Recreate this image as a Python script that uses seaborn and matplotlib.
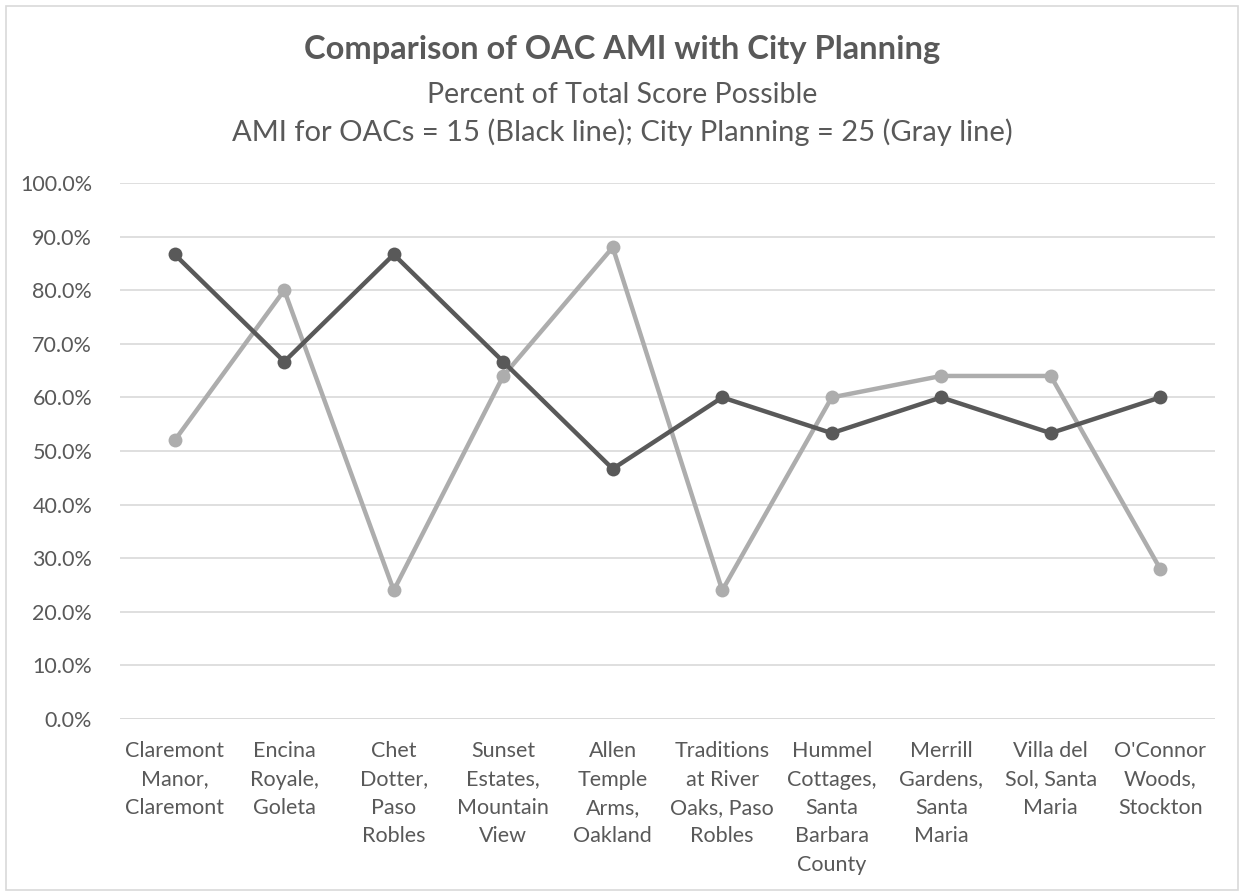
import matplotlib
matplotlib.use("Agg")
import matplotlib.pyplot as plt
import pandas as pd
import seaborn as sns
from matplotlib.patches import Rectangle
from matplotlib.ticker import PercentFormatter

communities = [
    "Claremont\nManor,\nClaremont",
    "Encina\nRoyale,\nGoleta",
    "Chet\nDotter,\nPaso\nRobles",
    "Sunset\nEstates,\nMountain\nView",
    "Allen\nTemple\nArms,\nOakland",
    "Traditions\nat River\nOaks, Paso\nRobles",
    "Hummel\nCottages,\nSanta\nBarbara\nCounty",
    "Merrill\nGardens,\nSanta\nMaria",
    "Villa del\nSol, Santa\nMaria",
    "O'Connor\nWoods,\nStockton",
]
# raw scores: AMI out of 15, city planning out of 25
ami_scores = [13, 10, 13, 10, 7, 9, 8, 9, 8, 9]
city_scores = [13, 20, 6, 16, 22, 6, 15, 16, 16, 7]
ami_pct = [s / 15 * 100 for s in ami_scores]
city_pct = [s / 25 * 100 for s in city_scores]

df = pd.DataFrame({
    "pos": list(range(len(communities))) * 2,
    "pct": ami_pct + city_pct,
    "series": ["AMI"] * len(communities) + ["City"] * len(communities),
})

sns.set_theme(style="white")
plt.rcParams["font.family"] = ["Lato", "DejaVu Sans"]
text_col = "#595959"

fig = plt.figure(figsize=(12.44, 8.96), dpi=100)
ax = fig.add_axes([120 / 1244, 1 - 719 / 896, 1095 / 1244, 536 / 896])

sns.lineplot(data=df[df.series == "City"], x="pos", y="pct", color="#ADADAD",
             linewidth=3.2, marker="o", markersize=10, markeredgewidth=0, ax=ax, zorder=3)
sns.lineplot(data=df[df.series == "AMI"], x="pos", y="pct", color="#595959",
             linewidth=3.2, marker="o", markersize=10, markeredgewidth=0, ax=ax, zorder=4)

ax.set_xlim(-0.5, len(communities) - 0.5)
ax.set_ylim(0, 100)
ax.set_yticks(range(0, 101, 10))
ax.yaxis.set_major_formatter(PercentFormatter(decimals=1))
ax.set_xticks(range(len(communities)))
ax.set_xticklabels(communities, va="top", linespacing=1.52)
ax.tick_params(axis="x", length=0, labelsize=15.5, colors=text_col, pad=16)
ax.tick_params(axis="y", length=0, labelsize=15.5, colors=text_col, pad=20)
ax.grid(axis="y", color="#D9D9D9", linewidth=1.2)
ax.set_axisbelow(True)
for s in ["top", "right", "left", "bottom"]:
    ax.spines[s].set_visible(False)
ax.axhline(0, color="#D9D9D9", linewidth=1.2, zorder=1)
ax.set_xlabel("")
ax.set_ylabel("")

fig.text(0.5, 1 - 49 / 896, "Comparison of OAC AMI with City Planning", ha="center",
         va="center", fontsize=23.5, fontweight="bold", color=text_col)
fig.text(0.5, 1 - 95 / 896, "Percent of Total Score Possible", ha="center",
         va="center", fontsize=20.5, color=text_col)
fig.text(0.5, 1 - 132 / 896, "AMI for OACs = 15 (Black line); City Planning = 25 (Gray line)",
         ha="center", va="center", fontsize=21, color=text_col)

fig.patches.append(Rectangle((6 / 1244, 6 / 896), 1232 / 1244, 884 / 896, transform=fig.transFigure,
                             fill=False, edgecolor="#D9D9D9", linewidth=1.2))

fig.savefig("out.png", dpi=100)
